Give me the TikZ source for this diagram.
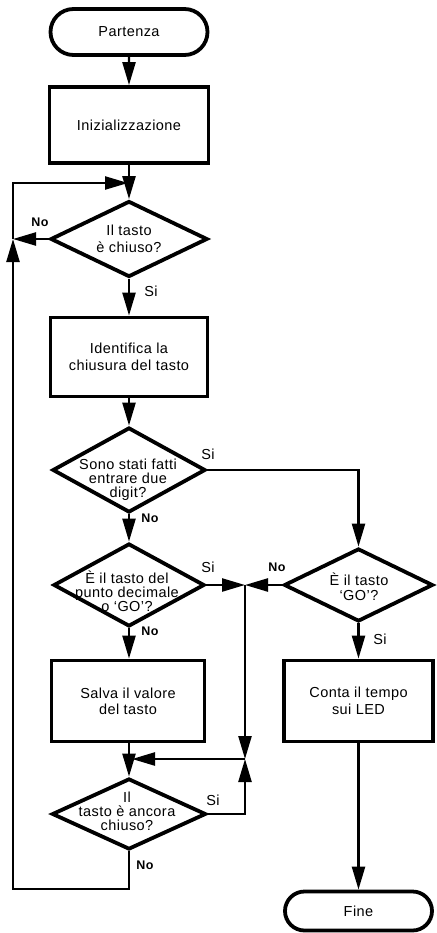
\documentclass[tikz,border=0pt]{standalone}
\usepackage{fontspec}
\setmainfont[LetterSpace=3]{Liberation Sans}
\usetikzlibrary{shapes.geometric,shapes.misc,arrows.meta}
\begin{document}
\begin{tikzpicture}[x=1pt,y=-1pt,
  every node/.style={font=\fontsize{14.5}{16.5}\selectfont},
  box/.style={draw, line width=3.8pt, rectangle, align=center, inner sep=0pt},
  term/.style={draw, line width=3.8pt, rounded rectangle, inner sep=0pt},
  dia/.style={draw, line width=3.8pt, diamond, inner sep=0pt},
  txt/.style={align=center, inner sep=0pt},
  conn/.style={line width=2.4pt},
  arr/.style={line width=2.4pt, -{Triangle[length=23pt,width=13pt]}},
  yes/.style={inner sep=0pt, font=\fontsize{14.5}{16}\selectfont},
  no/.style={inner sep=0pt, font=\bfseries\fontsize{12.5}{14}\selectfont},
]
\useasboundingbox (0,0) rectangle (436,933);

% left column
\node[term, minimum width=157pt, minimum height=46pt] (start) at (129,32) {Partenza};
\node[box, minimum width=159pt, minimum height=76pt] (init) at (129,125) {Inizializzazione};
\node[dia, minimum width=157pt, minimum height=76pt] (d1) at (129,239) {};
\node[txt] (t1) at (129,239) {Il tasto\\è chiuso?};
\node[box, minimum width=157pt, minimum height=79pt, font=\fontsize{14.5}{17}\selectfont] (box2) at (129,357) {Identifica la\\chiusura del tasto};
\node[dia, minimum width=153pt, minimum height=85pt] (d2) at (129,470) {};
\node[txt, font=\fontsize{14.5}{14}\selectfont] (t2) at (128,480) {Sono stati fatti\\entrare due\\digit?};
\node[dia, minimum width=151pt, minimum height=83pt] (d3) at (129,585) {};
\node[txt, font=\fontsize{14.5}{14}\selectfont] (t3) at (127,591) {È il tasto del\\punto decimale\\o ‘GO’?};
\node[box, minimum width=153pt, minimum height=81pt, font=\fontsize{14.5}{16}\selectfont] (salva) at (128,701) {Salva il valore\\del tasto};
\node[dia, minimum width=154pt, minimum height=71pt] (d4) at (129,814) {};
\node[txt, font=\fontsize{14.5}{14}\selectfont] (t4) at (127,811) {Il\\tasto è ancora\\chiuso?};

% right column
\node[dia, minimum width=149pt, minimum height=73pt] (dgo) at (358.5,585) {};
\node[txt, font=\fontsize{14.5}{15}\selectfont] (t5) at (359,587) {È il tasto\\‘GO’?};
\node[box, minimum width=149pt, minimum height=81pt, font=\fontsize{14.5}{17}\selectfont] (conta) at (358.5,701) {Conta il tempo\\sui LED};
\node[term, minimum width=147pt, minimum height=39pt] (fine) at (358.5,911) {Fine};

% junctions
\coordinate (jL) at (13,239);
\coordinate (jT) at (128,183);
\coordinate (jB) at (13,889);
\coordinate (jR) at (245,585);
\coordinate (jM) at (245,759);

% connectors
\draw[arr] (start) -- (init);
\draw[arr] (init) -- (d1);
\draw[arr] (d1.west) -- (jL);
\draw[arr] (d4.south) -- (d4.south |- jB) -- (jB) -- (jL);
\draw[arr] (jL) -- (jL |- jT) -- (jT);
\draw[arr] (d1) -- (box2);
\draw[arr] (box2) -- (d2);
\draw[arr] (d2) -- (d3);
\draw[arr] (d3.south) -- (d3.south |- salva.north);
\draw[arr] (salva.south -| d4.north) -- (d4.north);
\draw[arr] (d2.east) -- (d2.east -| dgo.north) -- (dgo.north);
\draw[arr] (d3.east) -- (jR);
\draw[arr] (dgo.west) -- (jR);
\draw[arr] (jR) -- (jM);
\draw[arr] (d4.east) -- (d4.east -| jM) -- (jM);
\draw[arr, shorten >=3pt] (jM) -- (jM -| d4.north);
\draw[arr] (dgo) -- (conta);
\draw[arr] (conta) -- (fine);

% labels
\node[no] (no1) at (40,222) {No};
\node[yes] (si1) at (151,291) {Si};
\node[yes] (si2) at (208,454) {Si};
\node[no] (no2) at (150,518) {No};
\node[yes] (si3) at (208,567) {Si};
\node[no] (no3) at (150,631) {No};
\node[no] (no4) at (277,567) {No};
\node[yes] (si4) at (380,639) {Si};
\node[yes] (si5) at (213,800) {Si};
\node[no] (no5) at (145,865) {No};
\end{tikzpicture}
\end{document}
